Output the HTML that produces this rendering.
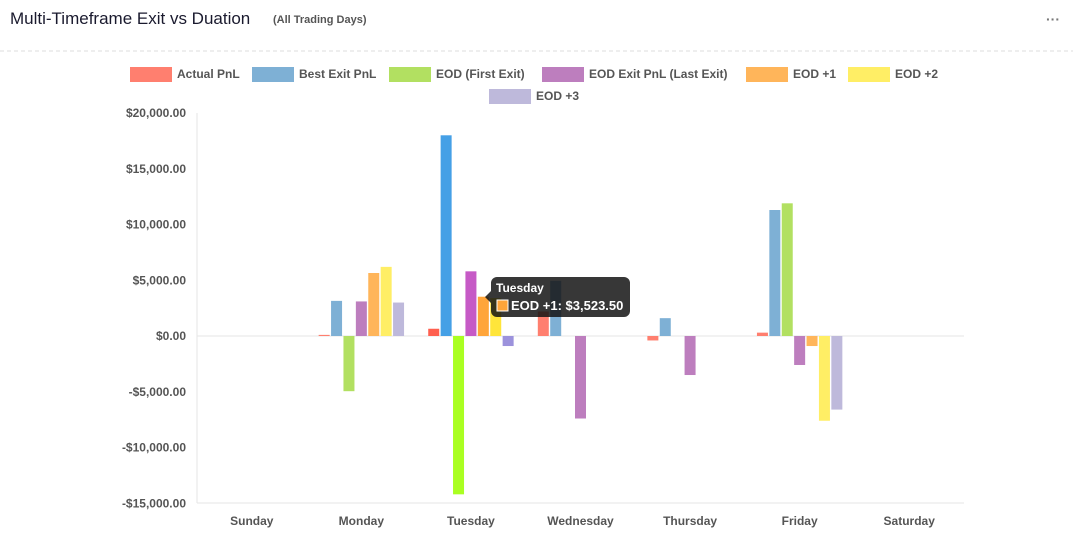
<!DOCTYPE html>
<html><head><meta charset="utf-8"><style>
body{margin:0;background:#fff;font-family:"Liberation Sans",sans-serif;}
#w{position:relative;width:1073px;height:537px;overflow:hidden}
</style></head><body><div id="w">
<svg id="s" width="1073" height="537" xmlns="http://www.w3.org/2000/svg" font-family="Liberation Sans, sans-serif">
<text x="10" y="24" font-size="17" fill="#1a1a2e">Multi-Timeframe Exit vs Duation</text>
<text x="273" y="23" font-size="11" fill="#555" font-weight="bold">(All Trading Days)</text>
<text x="1046" y="24" font-size="14" fill="#777" font-weight="bold">···</text>
<line x1="0" y1="51" x2="1073" y2="51" stroke="#ddd" stroke-dasharray="4,3"/>
<g id="g"></g>
</svg>
<script>
const g=document.getElementById('g');let h='';
const Y=v=>336-v*55.75/5000;
const labs=['$20,000.00','$15,000.00','$10,000.00','$5,000.00','$0.00','-$5,000.00','-$10,000.00','-$15,000.00'];
labs.forEach((l,i)=>{const v=20000-i*5000;h+=`<text x="186" y="${Y(v)+4}" font-size="12" font-weight="bold" fill="#555" text-anchor="end">${l}</text>`;});
h+=`<line x1="197" y1="113" x2="197" y2="503" stroke="#e5e5e5"/><line x1="197" y1="503" x2="964" y2="503" stroke="#e5e5e5"/><line x1="197" y1="336" x2="964" y2="336" stroke="#e5e5e5"/>`;
const days=['Sunday','Monday','Tuesday','Wednesday','Thursday','Friday','Saturday'];
const cw=767/7;
days.forEach((d,i)=>{h+=`<text x="${197+cw*(i+.5)}" y="525" font-size="12" font-weight="bold" fill="#555" text-anchor="middle">${d}</text>`;});
const col=['#ff7f6f','#7eb0d5','#b2e061','#bd7ebe','#ffb55a','#ffee65','#beb9db'];
const hcol=['#ff5f4f','#45a0e6','#aaff22','#c65ac6','#ffa53a','#ffe53a','#9c92dc'];
const data=[[0,0,0,0,0,0,0],[100,3150,-4950,3100,5650,6200,3000],[650,18000,-14200,5800,3523,3400,-900],[2200,4950,0,-7400,0,0,0],[-400,1600,0,-3500,0,0,0],[300,11300,11900,-2600,-900,-7600,-6600],[0,0,0,0,0,0,0]];
data.forEach((r,i)=>{const c=197+cw*(i+.5);r.forEach((v,k)=>{if(!v)return;const x=c+(k-3)*12.4-5.5;const y0=Math.min(Y(v),336),hh=Math.abs(Y(v)-336);h+=`<rect x="${x}" y="${y0}" width="11" height="${hh}" fill="${i==2?hcol[k]:col[k]}"/>`;});});
const L1=[['Actual PnL',130],['Best Exit PnL',252],['EOD (First Exit)',389],['EOD Exit PnL (Last Exit)',542],['EOD +1',746],['EOD +2',848]];
L1.forEach(([t,x],k)=>{h+=`<rect x="${x}" y="67" width="42" height="15" fill="${col[k]}"/><text x="${x+47}" y="78" font-size="12" font-weight="bold" fill="#555">${t}</text>`;});
h+=`<rect x="489" y="89" width="42" height="15" fill="${col[6]}"/><text x="536" y="100" font-size="12" font-weight="bold" fill="#555">EOD +3</text>`;
h+=`<path d="M497 277 H624 a6 6 0 0 1 6 6 V311 a6 6 0 0 1 -6 6 H497 a6 6 0 0 1 -6 -6 V303 L485 297 L491 291 V283 a6 6 0 0 1 6 -6Z" fill="rgba(20,20,20,0.85)"/>`;
h+=`<text x="496" y="292" font-size="12" font-weight="bold" fill="#fff">Tuesday</text><rect x="497" y="300" width="11" height="11" fill="#ffa53a" stroke="#fff" stroke-width="1"/><text x="511" y="310" font-size="13" font-weight="bold" fill="#fff">EOD +1: $3,523.50</text>`;
g.innerHTML=h;
</script>
</div></body></html>
